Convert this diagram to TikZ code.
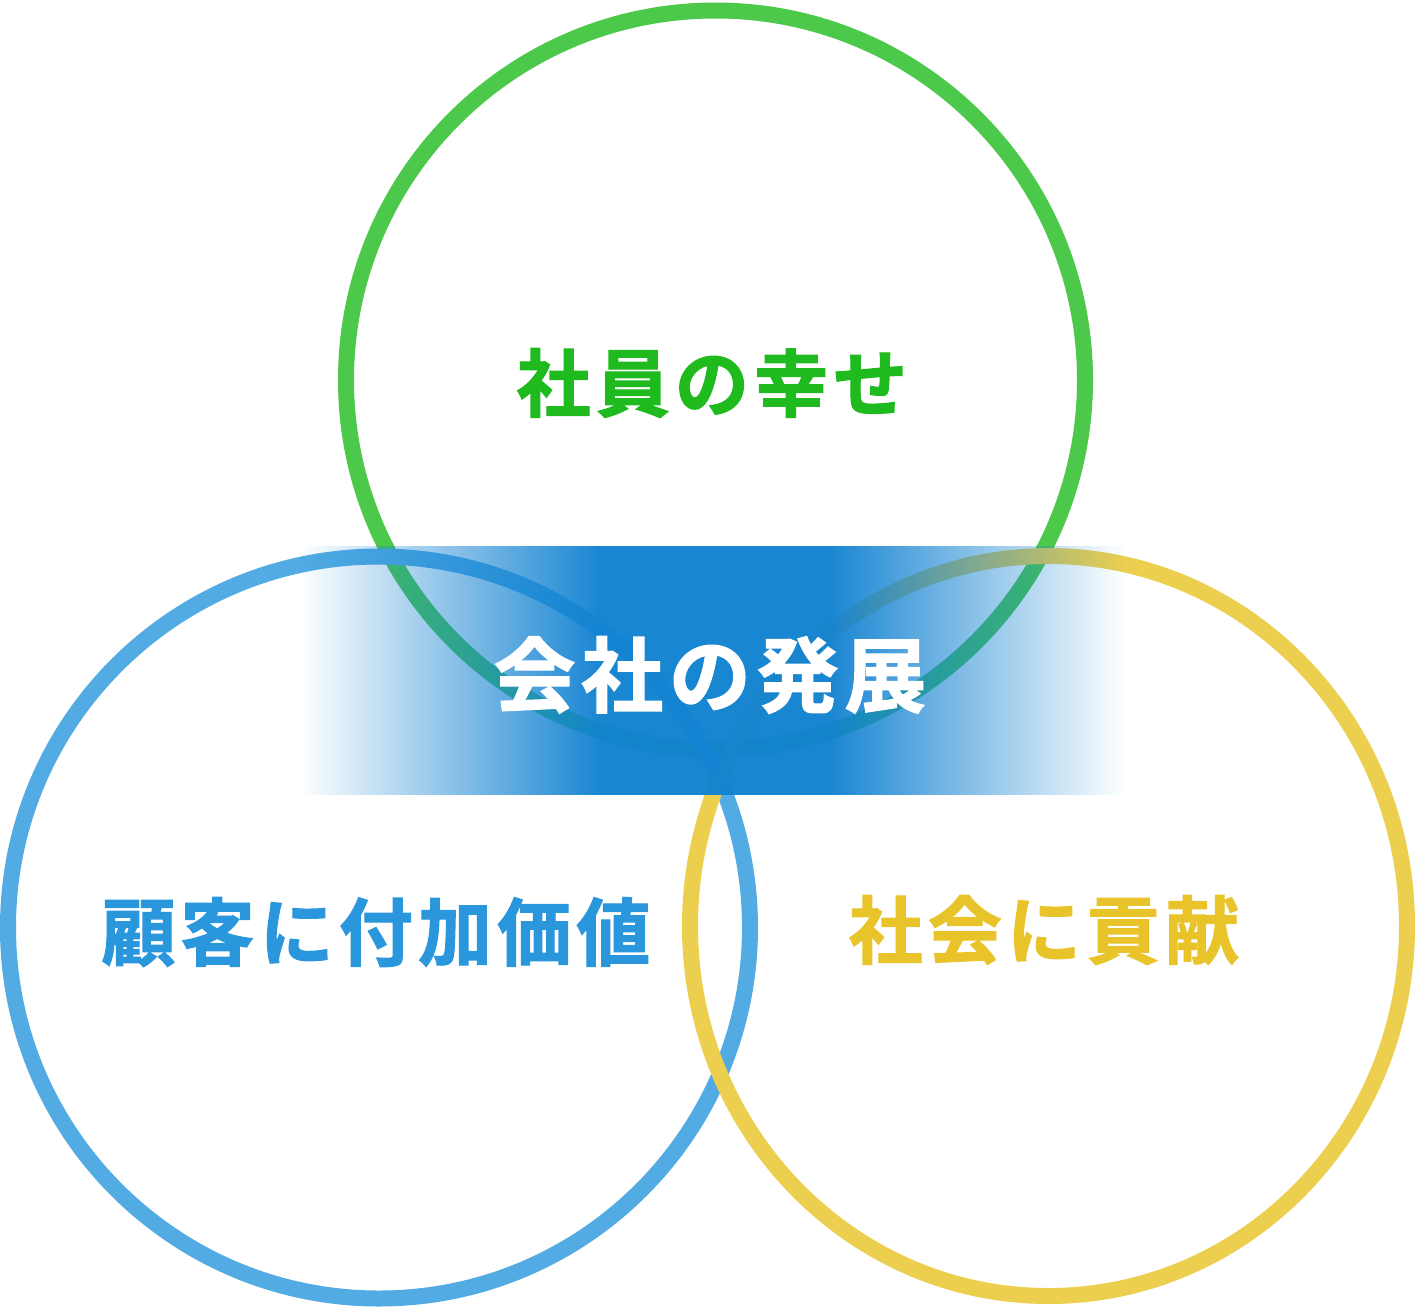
\documentclass[tikz,border=0pt]{standalone}
\usepackage{fontspec}
\usetikzlibrary{fadings}
\newfontfamily\jp{Noto Sans CJK JP}[BoldFont={Noto Sans CJK JP Bold},BoldFeatures={FakeBold=1.5},LetterSpace=7]
\definecolor{cgreen}{HTML}{4CC84A}
\definecolor{cblue}{HTML}{52ABE3}
\definecolor{cyellow}{HTML}{EDCF50}
\definecolor{tgreen}{HTML}{1EBA1E}
\definecolor{tblue}{HTML}{2A96DC}
\definecolor{tyellow}{HTML}{E8C42A}
\definecolor{bandblue}{HTML}{1282D1}
\tikzfading[name=fadeleft, left color=transparent!100, right color=transparent!3]
\tikzfading[name=faderight, left color=transparent!3, right color=transparent!100]
\tikzset{
  ring/.style={line width=16pt},
  bandpart/.style={fill=bandblue},
  lbl/.style={inner sep=0pt, font=\jp\bfseries\fontsize{74}{80}\selectfont},
  biglbl/.style={inner sep=0pt, font=\jp\bfseries\fontsize{82}{88}\selectfont}
}
\begin{document}
\begin{tikzpicture}[x=1pt,y=-1pt]
\useasboundingbox (0,0) rectangle (1415,1309);
\draw[ring, cgreen] (715.5,380) circle[radius=369.5];
\draw[ring, cblue] (379,927.5) circle[radius=371];
\draw[ring, cyellow] (1048.5,926) ellipse[x radius=358.5, y radius=370];
\path[bandpart, path fading=fadeleft] (300,546) rectangle (600,795);
\path[bandpart, fill opacity=0.97] (600,546) rectangle (830,795);
\path[bandpart, path fading=faderight] (830,546) rectangle (1125,795);
\node[lbl, text=tgreen] (happy) at (712,383) {社員の幸せ};
\node[biglbl, text=white] (growth) at (710,675) {会社の発展};
\node[lbl, text=tblue] (value) at (376,932) {顧客に付加価値};
\node[lbl, text=tyellow] (society) at (1044,930) {社会に貢献};
\end{tikzpicture}
\end{document}
